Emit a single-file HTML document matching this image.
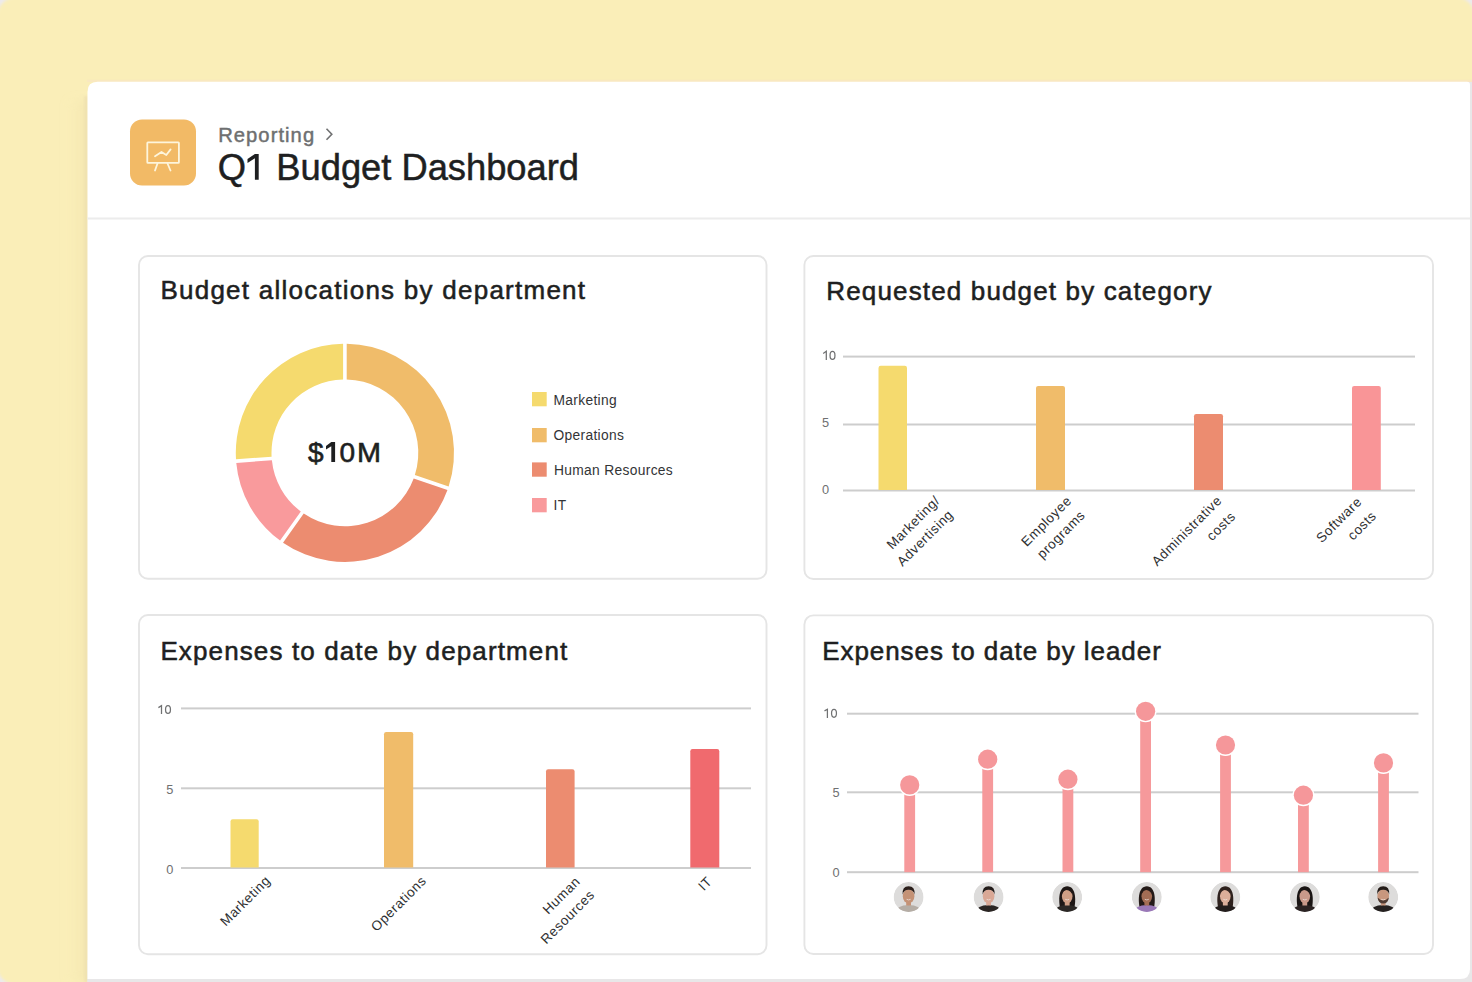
<!DOCTYPE html>
<html><head><meta charset="utf-8">
<style>
html,body{margin:0;padding:0;}
body{width:1472px;height:982px;overflow:hidden;position:relative;background:#FAEEB8;font-family:"Liberation Sans",sans-serif;}
svg{position:absolute;left:0;top:0;}
</style></head>
<body>
<svg width="1472" height="982" viewBox="0 0 1472 982" font-family="Liberation Sans, sans-serif">
  <defs>
    <linearGradient id="shadowL" x1="0" x2="1" y1="0" y2="0">
      <stop offset="0" stop-color="#FAEEB8" stop-opacity="0"/>
      <stop offset="1" stop-color="#EEDFA8" stop-opacity="1"/>
    </linearGradient>
  </defs>
  <defs>
    <filter id="blur4" x="-50%" y="-5%" width="200%" height="110%"><feGaussianBlur stdDeviation="5"/></filter>
    <filter id="blur1" x="-100%" y="-5%" width="300%" height="110%"><feGaussianBlur stdDeviation="1.2"/></filter>
    <filter id="blurC" x="-50%" y="-50%" width="200%" height="200%"><feGaussianBlur stdDeviation="1.5"/></filter>
  </defs>
  <!-- background -->
  <rect x="0" y="0" width="1472" height="982" fill="#FAEEB8"/>
  <rect x="66" y="100" width="22" height="882" fill="url(#shadowL)" opacity="0.62" filter="url(#blur4)"/>
  <rect x="84" y="96" width="4" height="886" fill="#EFE1B0" opacity="0.8" filter="url(#blur1)"/>
  <!-- rounded screenshot corners -->
  <g fill="#ECEAF0" filter="url(#blurC)">
    <path d="M-2,-2 H14 A16,16 0 0 0 -2,14 Z"/>
    <path d="M1474,-2 H1458 A16,16 0 0 1 1474,14 Z"/>
    <path d="M-2,984 V968 A16,16 0 0 0 14,984 Z"/>
  </g>
  <!-- gray frame -->
  <rect x="1000" y="81.8" width="472" height="900.2" fill="#E8E7E8"/>
  <rect x="87.5" y="960" width="1384.5" height="22" fill="#E8E7E8"/>
  <rect x="87" y="79.8" width="1385" height="2.2" fill="#F9E6C2" opacity="0.8"/>
  <!-- panel -->
  <path d="M87.5,982 L87.5,91.8 Q87.5,81.8 97.5,81.8 L1467,81.8 Q1470,81.8 1470,84.8 L1470,969 Q1470,979 1460,979 L87.5,979 Z" fill="#FFFFFF"/>
  <rect x="87.5" y="979" width="1.5" height="3" fill="#E8E7E8"/>
  <!-- header divider -->
  <rect x="87.5" y="217.5" width="1383" height="2" fill="#ECECEC"/>

  <!-- header icon -->
  <rect x="130" y="119.5" width="66" height="66" rx="12" fill="#F2BA66"/>
  <g fill="none" stroke="#FDF5DC" stroke-width="1.8" stroke-linecap="round" stroke-linejoin="round">
    <rect x="147.3" y="142.3" width="31.6" height="20.6" rx="0.6"/>
    <path d="M157.5,163.5 L155,170.5 M167.5,163.5 L170.5,170.5"/>
    <path d="M155,156.3 L161.5,152 L166.3,155 L170.6,149.4"/>
  </g>
  <!-- breadcrumb -->
  <text x="218.2" y="142.1" font-size="20.2" font-weight="400" fill="#6E6F70" stroke="#6E6F70" stroke-width="0.45" letter-spacing="1.05">Reporting</text>
  <path d="M326.5,128.8 L331.8,134.2 L326.5,139.7" fill="none" stroke="#707172" stroke-width="1.6"/>
  <g font-size="36.3" fill="#1E1F21" stroke="#1E1F21" stroke-width="0.5">
    <text x="217.8" y="179.8">Q</text>
    <text x="276.32" y="179.8">Budget Dashboard</text>
  </g>
  <path d="M254.9,153.9 H258.7 V179.8 H254.9 V158.2 L247.5,162.9 V159 Z" fill="#1E1F21"/>

  <!-- cards -->
  <g fill="#FFFFFF" stroke="#E5E5E5" stroke-width="1.9">
    <rect x="139" y="256" width="627.5" height="322.7" rx="9"/>
    <rect x="804.4" y="256" width="628.6" height="323" rx="9"/>
    <rect x="139" y="615" width="627.5" height="339.2" rx="9"/>
    <rect x="804.4" y="615.4" width="628.6" height="338.6" rx="9"/>
  </g>

  <!-- card titles -->
  <g font-size="26" font-weight="400" fill="#1E1F21" stroke="#1E1F21" stroke-width="0.55">
    <text x="160.4" y="299.2" letter-spacing="1.25">Budget allocations by department</text>
    <text x="826.3" y="299.9" letter-spacing="1.15">Requested budget by category</text>
    <text x="160.4" y="659.9" letter-spacing="1.12">Expenses to date by department</text>
    <text x="822.2" y="659.9" letter-spacing="0.94">Expenses to date by leader</text>
  </g>

  <!-- ===== Card 1: donut ===== -->
  <g id="donut"><path d="M346.70,343.71 A109.1,109.1 0 0 1 448.63,486.61 L414.87,474.99 A73.4,73.4 0 0 0 346.70,379.42 Z" fill="#F0BC6A"/><path d="M447.46,490.02 A109.1,109.1 0 0 1 283.02,542.65 L303.75,513.58 A73.4,73.4 0 0 0 413.69,478.39 Z" fill="#EC8C70"/><path d="M280.09,540.56 A109.1,109.1 0 0 1 236.27,462.96 L271.88,460.22 A73.4,73.4 0 0 0 300.82,511.49 Z" fill="#F99A9C"/><path d="M236.00,459.37 A109.1,109.1 0 0 1 343.10,343.71 L343.10,379.42 A73.4,73.4 0 0 0 271.60,456.63 Z" fill="#F5DA6E"/></g>
  <g font-size="28" fill="#1E1F21" stroke="#1E1F21" stroke-width="0.6">
    <text x="307.9" y="461.9">$</text>
    <text x="339.6" y="461.9" textLength="15.6" lengthAdjust="spacingAndGlyphs">0</text>
    <text x="357.0" y="461.9" textLength="24" lengthAdjust="spacingAndGlyphs">M</text>
  </g>
  <path d="M331.3,442 H335.1 V461.9 H331.3 V446.3 L326,449.6 V445.9 Z" fill="#1E1F21"/>
  <g>
    <rect x="532" y="392" width="14.7" height="14.3" fill="#F5DA6E"/>
    <rect x="532" y="428" width="14.7" height="14.3" fill="#F0BC6A"/>
    <rect x="532" y="462.4" width="14.7" height="14.3" fill="#EC8C70"/>
    <rect x="532" y="498" width="14.7" height="14.3" fill="#F99A9C"/>
  </g>
  <g font-size="13.8" fill="#333436" letter-spacing="0.32">
    <text x="553.5" y="404.5">Marketing</text>
    <text x="553.5" y="439.5">Operations</text>
    <text x="554" y="474.5">Human Resources</text>
    <text x="553.5" y="509.5">IT</text>
  </g>

  <!-- ===== Card 2: requested budget ===== -->
  <g fill="#CDCDCD">
    <rect x="843" y="355.6" width="572" height="2"/>
    <rect x="843" y="423.5" width="572" height="2"/>
    <rect x="843" y="489.5" width="572" height="2"/>
  </g>
  <g font-size="12.8" fill="#6F7071">
    <text x="822" y="427.1">5</text>
    <text x="822" y="493.6">0</text>
  </g>
  <g>
    <path d="M878.5,490 V368 Q878.5,365.8 880.7,365.8 H904.8 Q907,365.8 907,368 V490 Z" fill="#F5DA6E"/>
    <path d="M1036,490 V388 Q1036,385.9 1038.2,385.9 H1062.8 Q1065,385.9 1065,388 V490 Z" fill="#F0BC6A"/>
    <path d="M1194,490 V416.3 Q1194,414.1 1196.2,414.1 H1220.8 Q1223,414.1 1223,416.3 V490 Z" fill="#EC8C70"/>
    <path d="M1352,490 V388 Q1352,385.9 1354.2,385.9 H1378.6 Q1380.8,385.9 1380.8,388 V490 Z" fill="#F99597"/>
  </g>
  <g font-size="13.5" fill="#2E2F31" letter-spacing="0.55" text-anchor="middle">
    <text transform="translate(916.5,525.8) rotate(-45)">Marketing/</text>
    <text transform="translate(928.3,541.2) rotate(-45)">Advertising</text>
    <text transform="translate(1049.6,524.4) rotate(-45)">Employee</text>
    <text transform="translate(1064.2,537.7) rotate(-45)">programs</text>
    <text transform="translate(1190.0,534.1) rotate(-45)">Administrative</text>
    <text transform="translate(1224.2,529.4) rotate(-45)">costs</text>
    <text transform="translate(1342.2,523.0) rotate(-45)">Software</text>
    <text transform="translate(1365.1,528.9) rotate(-45)">costs</text>
  </g>

  <!-- ===== Card 3: expenses by department ===== -->
  <g fill="#CDCDCD">
    <rect x="181" y="707.4" width="570" height="2"/>
    <rect x="181" y="787.3" width="570" height="2"/>
    <rect x="181" y="867" width="570" height="2"/>
  </g>
  <g font-size="12.8" fill="#6F7071" text-anchor="end">
    <text x="173.3" y="794">5</text>
    <text x="173.3" y="873.5">0</text>
  </g>
  <g>
    <path d="M230.5,867.5 V821.4 Q230.5,819.2 232.7,819.2 H256.5 Q258.7,819.2 258.7,821.4 V867.5 Z" fill="#F5DA6E"/>
    <path d="M384,867.5 V734.3 Q384,732.1 386.2,732.1 H411 Q413.2,732.1 413.2,734.3 V867.5 Z" fill="#F0BC6A"/>
    <path d="M546,867.5 V771.4 Q546,769.2 548.2,769.2 H572.4 Q574.6,769.2 574.6,771.4 V867.5 Z" fill="#EC8C70"/>
    <path d="M690.3,867.5 V751.2 Q690.3,749 692.5,749 H717.1 Q719.3,749 719.3,751.2 V867.5 Z" fill="#F06A6E"/>
  </g>
  <g font-size="13.5" fill="#2E2F31" letter-spacing="0.55" text-anchor="middle">
    <text transform="translate(248.5,904.0) rotate(-45)">Marketing</text>
    <text transform="translate(401.9,907.0) rotate(-45)">Operations</text>
    <text transform="translate(564.7,898.7) rotate(-45)">Human</text>
    <text transform="translate(570.9,920.2) rotate(-45)">Resources</text>
    <text transform="translate(708.4,886.8) rotate(-45)">IT</text>
  </g>

  <!-- ===== Card 4: expenses by leader ===== -->
  <g fill="#CDCDCD">
    <rect x="847" y="712.7" width="571.5" height="2"/>
    <rect x="847" y="791.3" width="571.5" height="2"/>
    <rect x="847" y="871.2" width="571.5" height="2"/>
  </g>
  <g font-size="12.8" fill="#6F7071" text-anchor="end">
    <text x="839.6" y="796.8">5</text>
    <text x="839.6" y="877">0</text>
  </g>
  <!-- "10" labels as paths -->
  <g fill="none" stroke="#707172" stroke-width="1.25"><path d="M823.2,353.4 L826.3,351.29999999999995 V359.9"/><ellipse cx="832.5" cy="355.4" rx="2.45" ry="3.95"/></g>
  <g fill="none" stroke="#707172" stroke-width="1.25"><path d="M158.4,707.6 L161.5,705.6 V713.9"/><ellipse cx="168.0" cy="709.5" rx="2.45" ry="3.95"/></g>
  <g fill="none" stroke="#707172" stroke-width="1.25"><path d="M824.5,710.9 L827.4,709.3 V717.9"/><ellipse cx="834.0" cy="713.3" rx="2.45" ry="3.95"/></g>
  <g id="lolli"><rect x="904.3" y="784.9" width="10.8" height="87.3" fill="#F6999B"/><circle cx="909.7" cy="784.9" r="11" fill="#FFFFFF"/><circle cx="909.7" cy="784.9" r="9.6" fill="#F5979A"/><rect x="982.3" y="759.2" width="10.8" height="113.0" fill="#F6999B"/><circle cx="987.7" cy="759.2" r="11" fill="#FFFFFF"/><circle cx="987.7" cy="759.2" r="9.6" fill="#F5979A"/><rect x="1062.5" y="779.2" width="10.8" height="93.0" fill="#F6999B"/><circle cx="1067.9" cy="779.2" r="11" fill="#FFFFFF"/><circle cx="1067.9" cy="779.2" r="9.6" fill="#F5979A"/><rect x="1140.2" y="711.3" width="10.8" height="160.9" fill="#F6999B"/><circle cx="1145.6" cy="711.3" r="11" fill="#FFFFFF"/><circle cx="1145.6" cy="711.3" r="9.6" fill="#F5979A"/><rect x="1220.1" y="745.0" width="10.8" height="127.2" fill="#F6999B"/><circle cx="1225.5" cy="745.0" r="11" fill="#FFFFFF"/><circle cx="1225.5" cy="745.0" r="9.6" fill="#F5979A"/><rect x="1298.0" y="795.2" width="10.8" height="77.0" fill="#F6999B"/><circle cx="1303.4" cy="795.2" r="11" fill="#FFFFFF"/><circle cx="1303.4" cy="795.2" r="9.6" fill="#F5979A"/><rect x="1378.1" y="762.9" width="10.8" height="109.3" fill="#F6999B"/><circle cx="1383.5" cy="762.9" r="11" fill="#FFFFFF"/><circle cx="1383.5" cy="762.9" r="9.6" fill="#F5979A"/></g>
  <g id="avatars"><defs><clipPath id="av0"><circle cx="908.6" cy="897" r="15"/></clipPath><clipPath id="av1"><circle cx="988.6" cy="897" r="15"/></clipPath><clipPath id="av2"><circle cx="1067.2" cy="897" r="15"/></clipPath><clipPath id="av3"><circle cx="1146.8" cy="897" r="15"/></clipPath><clipPath id="av4"><circle cx="1225.3" cy="897" r="15"/></clipPath><clipPath id="av5"><circle cx="1304.8" cy="897" r="15"/></clipPath><clipPath id="av6"><circle cx="1383.2" cy="897" r="15"/></clipPath></defs><g clip-path="url(#av0)"><circle cx="908.6" cy="897" r="15" fill="#DDDCDB"/><path d="M895.1,913 Q896.1,905.5 908.6,905 Q921.1,905.5 922.1,913 Z" fill="#B5ADA5"/><rect x="906.2" y="900" width="4.8" height="5.5" fill="#C49276"/><ellipse cx="908.6" cy="896.2" rx="5.8" ry="7" fill="#C49276"/><path d="M902.6,894.5 Q902.0,886.2 908.6,886.2 Q915.2,886.2 914.6,894.5 Q913.6,890 908.6,889.8 Q903.6,890 902.6,894.5 Z" fill="#2A1E1A"/><path d="M906.6,899.3 Q908.6,900.6 910.6,899.3" stroke="#F4E9E4" stroke-width="0.9" fill="none" opacity="0.8"/></g><g clip-path="url(#av1)"><circle cx="988.6" cy="897" r="15" fill="#DDDCDB"/><path d="M975.1,913 Q976.1,905.5 988.6,905 Q1001.1,905.5 1002.1,913 Z" fill="#2A2523"/><rect x="986.2" y="900" width="4.8" height="5.5" fill="#D9A896"/><ellipse cx="988.6" cy="896.2" rx="5.8" ry="7" fill="#D9A896"/><path d="M982.6,894.5 Q982.0,886.2 988.6,886.2 Q995.2,886.2 994.6,894.5 Q993.6,890 988.6,889.8 Q983.6,890 982.6,894.5 Z" fill="#221B19"/><path d="M986.6,899.3 Q988.6,900.6 990.6,899.3" stroke="#F4E9E4" stroke-width="0.9" fill="none" opacity="0.8"/></g><g clip-path="url(#av2)"><circle cx="1067.2" cy="897" r="15" fill="#DDDCDB"/><path d="M1060.0,908 C1058.4,899 1058.6000000000001,886.5 1067.2,886.2 C1075.8,886.5 1076.0,899 1074.4,908 Z" fill="#1E1716"/><path d="M1053.7,913 Q1054.7,905.5 1067.2,905 Q1079.7,905.5 1080.7,913 Z" fill="#2B2725"/><rect x="1064.8" y="900" width="4.8" height="5.5" fill="#CF9E85"/><ellipse cx="1067.2" cy="896.2" rx="5.3" ry="7" fill="#CF9E85"/><path d="M1061.8,895.5 Q1061.8,888.2 1067.2,888.2 Q1072.6000000000001,888.2 1072.6000000000001,895.5 Q1070.7,890.2 1066.7,890.1 Q1063.0,890.6 1061.8,895.5 Z" fill="#1E1716"/><path d="M1065.2,899.3 Q1067.2,900.6 1069.2,899.3" stroke="#F4E9E4" stroke-width="0.9" fill="none" opacity="0.8"/></g><g clip-path="url(#av3)"><circle cx="1146.8" cy="897" r="15" fill="#DDDCDB"/><path d="M1139.6,908 C1138.0,899 1138.2,886.5 1146.8,886.2 C1155.3999999999999,886.5 1155.6,899 1154.0,908 Z" fill="#241A18"/><path d="M1133.3,913 Q1134.3,905.5 1146.8,905 Q1159.3,905.5 1160.3,913 Z" fill="#9A78B8"/><rect x="1144.3999999999999" y="900" width="4.8" height="5.5" fill="#A36D55"/><ellipse cx="1146.8" cy="896.2" rx="5.3" ry="7" fill="#A36D55"/><path d="M1141.3999999999999,895.5 Q1141.3999999999999,888.2 1146.8,888.2 Q1152.2,888.2 1152.2,895.5 Q1150.3,890.2 1146.3,890.1 Q1142.6,890.6 1141.3999999999999,895.5 Z" fill="#241A18"/><path d="M1144.8,899.3 Q1146.8,900.6 1148.8,899.3" stroke="#F4E9E4" stroke-width="0.9" fill="none" opacity="0.8"/></g><g clip-path="url(#av4)"><circle cx="1225.3" cy="897" r="15" fill="#DDDCDB"/><path d="M1218.1,908 C1216.5,899 1216.7,886.5 1225.3,886.2 C1233.8999999999999,886.5 1234.1,899 1232.5,908 Z" fill="#2F221E"/><path d="M1211.8,913 Q1212.8,905.5 1225.3,905 Q1237.8,905.5 1238.8,913 Z" fill="#231D1C"/><rect x="1222.8999999999999" y="900" width="4.8" height="5.5" fill="#DBAE9A"/><ellipse cx="1225.3" cy="896.2" rx="5.3" ry="7" fill="#DBAE9A"/><path d="M1219.8999999999999,895.5 Q1219.8999999999999,888.2 1225.3,888.2 Q1230.7,888.2 1230.7,895.5 Q1228.8,890.2 1224.8,890.1 Q1221.1,890.6 1219.8999999999999,895.5 Z" fill="#2F221E"/><path d="M1223.3,899.3 Q1225.3,900.6 1227.3,899.3" stroke="#F4E9E4" stroke-width="0.9" fill="none" opacity="0.8"/></g><g clip-path="url(#av5)"><circle cx="1304.8" cy="897" r="15" fill="#DDDCDB"/><path d="M1297.6,908 C1296.0,899 1296.2,886.5 1304.8,886.2 C1313.3999999999999,886.5 1313.6,899 1312.0,908 Z" fill="#1A1514"/><path d="M1291.3,913 Q1292.3,905.5 1304.8,905 Q1317.3,905.5 1318.3,913 Z" fill="#2B2323"/><rect x="1302.3999999999999" y="900" width="4.8" height="5.5" fill="#C9998A"/><ellipse cx="1304.8" cy="896.2" rx="5.3" ry="7" fill="#C9998A"/><path d="M1299.3999999999999,895.5 Q1299.3999999999999,888.2 1304.8,888.2 Q1310.2,888.2 1310.2,895.5 Q1308.3,890.2 1304.3,890.1 Q1300.6,890.6 1299.3999999999999,895.5 Z" fill="#1A1514"/><path d="M1302.8,899.3 Q1304.8,900.6 1306.8,899.3" stroke="#F4E9E4" stroke-width="0.9" fill="none" opacity="0.8"/></g><g clip-path="url(#av6)"><circle cx="1383.2" cy="897" r="15" fill="#DDDCDB"/><path d="M1369.7,913 Q1370.7,905.5 1383.2,905 Q1395.7,905.5 1396.7,913 Z" fill="#252120"/><rect x="1380.8" y="900" width="4.8" height="5.5" fill="#C8977E"/><ellipse cx="1383.2" cy="896.2" rx="5.8" ry="7" fill="#C8977E"/><path d="M1377.2,894.5 Q1376.6000000000001,886.2 1383.2,886.2 Q1389.8,886.2 1389.2,894.5 Q1388.2,890 1383.2,889.8 Q1378.2,890 1377.2,894.5 Z" fill="#231B18"/><path d="M1377.6000000000001,897.5 Q1378.2,903.5 1383.2,903.5 Q1388.2,903.5 1388.8,897.5 Q1386.2,900.5 1383.2,900.2 Q1380.2,900.5 1377.6000000000001,897.5 Z" fill="#3A2A24" opacity="0.85"/><path d="M1381.2,899.3 Q1383.2,900.6 1385.2,899.3" stroke="#F4E9E4" stroke-width="0.9" fill="none" opacity="0.8"/></g></g>
</svg>
</body></html>
